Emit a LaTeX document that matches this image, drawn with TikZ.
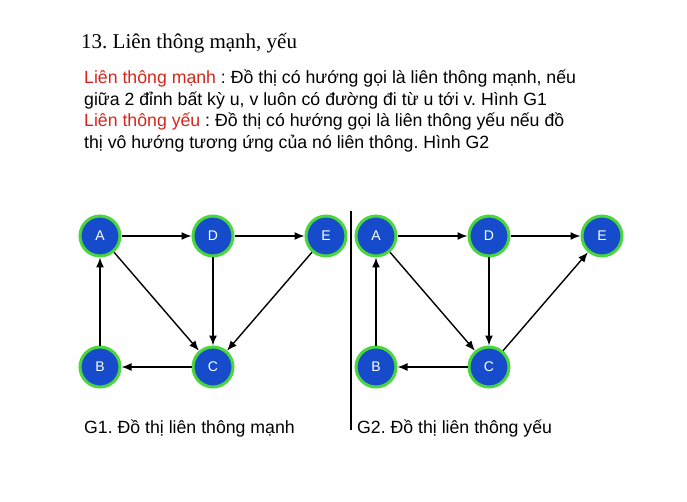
\documentclass[tikz,border=0pt]{standalone}
\usepackage{fontspec}
\setmainfont{Liberation Serif}
\setsansfont{Liberation Sans}
\usetikzlibrary{positioning, arrows.meta}
\definecolor{nodeblue}{RGB}{22,76,204}
\definecolor{ringgreen}{RGB}{74,214,60}
\definecolor{termred}{RGB}{214,38,28}
\frenchspacing

\begin{document}
\begin{tikzpicture}[>={Latex[length=10pt,width=8pt]}, x=1pt, y=-1pt,
  vertex/.style={circle, fill=nodeblue, draw=ringgreen, line width=3pt,
    minimum size=40pt, inner sep=0pt, text=white,
    font=\sffamily\fontsize{14}{16}\selectfont},
  textline/.style={anchor=base west, inner sep=0pt,
    font=\sffamily\fontsize{17.7}{21}\selectfont},
  edge/.style={->, line width=1.4pt}]
  \useasboundingbox (0,0) rectangle (687,502);
  % title and definitions
  \node (title) at (81,48.5) [anchor=base west, inner sep=0pt,
    font=\fontsize{21}{25}\selectfont] {13. Liên thông mạnh, yếu};
  \node (line1) at (84,84) [textline] {\textcolor{termred}{Liên thông mạnh} : Đồ thị có hướng gọi là liên thông mạnh, nếu};
  \node (line2) at (84,105.5) [textline] {giữa 2 đỉnh bất kỳ u, v luôn có đường đi từ u tới v. Hình G1};
  \node (line3) at (84,127) [textline] {\textcolor{termred}{Liên thông yếu} : Đồ thị có hướng gọi là liên thông yếu nếu đồ};
  \node (line4) at (84,148.5) [textline] {thị vô hướng tương ứng của nó liên thông. Hình G2};
  % G1
  \node (A1) at (100,236) [vertex] {A};
  \node (D1) at (213,236) [vertex] {D};
  \node (E1) at (326,236) [vertex] {E};
  \node (B1) at (100,367) [vertex] {B};
  \node (C1) at (213,367) [vertex] {C};
  \draw [edge] (A1) -- (D1);
  \draw [edge] (D1) -- (E1);
  \draw [edge] (A1) -- (C1);
  \draw [edge] (D1) -- (C1);
  \draw [edge] (E1) -- (C1);
  \draw [edge] (C1) -- (B1);
  \draw [edge] (B1) -- (A1);
  % divider
  \draw [line width=1.5pt] (351,211) -- (351,430);
  % G2
  \node (A2) at (376,236) [vertex] {A};
  \node (D2) at (489,236) [vertex] {D};
  \node (E2) at (602,236) [vertex] {E};
  \node (B2) at (376,367) [vertex] {B};
  \node (C2) at (489,367) [vertex] {C};
  \draw [edge] (A2) -- (D2);
  \draw [edge] (D2) -- (E2);
  \draw [edge] (A2) -- (C2);
  \draw [edge] (D2) -- (C2);
  \draw [edge] (C2) -- (E2);
  \draw [edge] (C2) -- (B2);
  \draw [edge] (B2) -- (A2);
  % captions
  \node (cap1) at (84,433) [textline] {G1. Đồ thị liên thông mạnh};
  \node (cap2) at (357,433) [textline] {G2. Đồ thị liên thông yếu};
\end{tikzpicture}
\end{document}
